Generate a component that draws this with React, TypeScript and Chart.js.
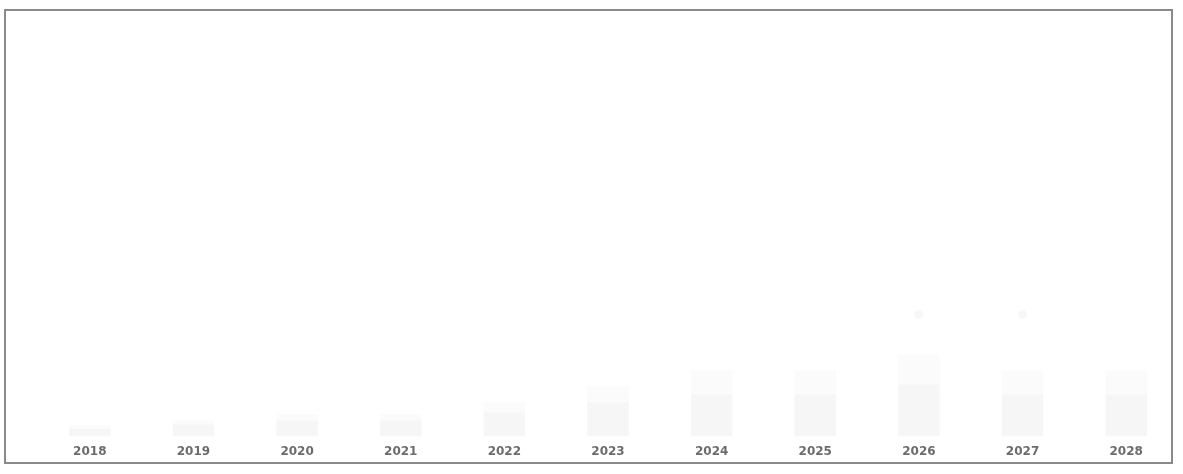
import React, { useEffect, useRef } from "react";
import { Chart, registerables } from "chart.js";

Chart.register(...registerables);

const years = ["2018", "2019", "2020", "2021", "2022", "2023", "2024", "2025", "2026", "2027", "2028"];
const baseSeries = [0.8, 1.2, 1.6, 1.6, 2.4, 3.4, 4.2, 4.2, 5.2, 4.2, 4.2];
const topSeries = [0.3, 0.4, 0.6, 0.6, 1.0, 1.6, 2.4, 2.4, 3.0, 2.4, 2.4];
const markerSeries = [null, null, null, null, null, null, null, null, 12.2, 12.2, null];

export default function App() {
  const ref = useRef<HTMLCanvasElement | null>(null);

  useEffect(() => {
    if (!ref.current) return;
    const chart = new Chart(ref.current, {
      type: "bar",
      data: {
        labels: years,
        datasets: [
          {
            type: "bar",
            label: "base",
            data: baseSeries,
            backgroundColor: "#f6f6f6",
            stack: "s",
            barPercentage: 0.4,
            categoryPercentage: 1,
          },
          {
            type: "bar",
            label: "top",
            data: topSeries,
            backgroundColor: "#fbfbfb",
            stack: "s",
            barPercentage: 0.4,
            categoryPercentage: 1,
          },
          {
            type: "line",
            label: "marker",
            data: markerSeries as any,
            borderColor: "rgba(0,0,0,0)",
            backgroundColor: "#f7f7f7",
            pointBackgroundColor: "#f7f7f7",
            pointBorderColor: "#f7f7f7",
            pointRadius: 4,
            showLine: false,
          },
        ],
      },
      options: {
        animation: false,
        responsive: false,
        maintainAspectRatio: false,
        layout: { padding: { left: 38, right: 1, top: 36, bottom: 7 } },
        plugins: {
          legend: { display: false },
          tooltip: { enabled: false },
          title: { display: false },
        },
        scales: {
          x: {
            stacked: true,
            grid: { display: false, drawTicks: false },
            border: { display: false },
            ticks: {
              padding: 8,
              color: "#6c6c6c",
              font: { family: "DejaVu Sans", weight: "bold", size: 12 },
            },
          },
          y: {
            stacked: true,
            display: false,
            min: 0,
            max: 40,
          },
        },
      },
    });
    return () => chart.destroy();
  }, []);

  return (
    <div style={{ position: "fixed", left: 0, top: 0, width: 1183, height: 474, background: "#ffffff" }}>
      <canvas ref={ref} width={1183} height={474} style={{ position: "absolute", left: 0, top: 0, width: 1183, height: 474 }} />
      <div
        style={{
          position: "absolute",
          left: 4,
          top: 9,
          width: 1169,
          height: 455,
          boxSizing: "border-box",
          border: "2px solid #8a8a8a",
          pointerEvents: "none",
        }}
      />
    </div>
  );
}
